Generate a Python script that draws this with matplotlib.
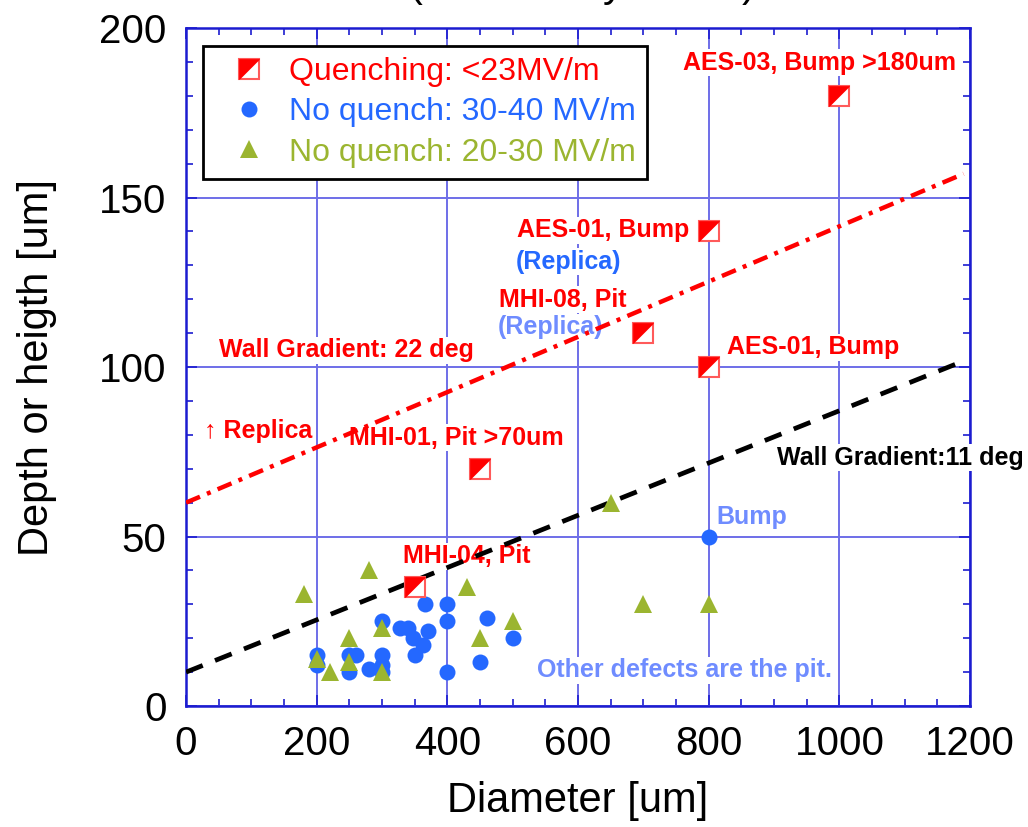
import numpy as np
import matplotlib
matplotlib.use('Agg')
import matplotlib.pyplot as plt
from matplotlib.path import Path
from matplotlib.lines import Line2D

plt.rcParams['font.family'] = ['Liberation Sans', 'DejaVu Sans']

# ---------------------------------------------------------------------------
# data
# ---------------------------------------------------------------------------
quench_x = [350, 450, 700, 800, 800, 1000]
quench_y = [35, 70, 110, 100, 140, 180]

high_x = [200, 200, 250, 250, 260, 280, 300, 300, 300, 300, 328, 340, 348,
          350, 362, 365, 370, 400, 400, 400, 450, 460, 500, 800]
high_y = [15, 12, 15, 10, 15, 11, 25, 15, 12, 10, 23, 23, 20,
          15, 18, 30, 22, 30, 25, 10, 13, 26, 20, 50]

mid_x = [180, 200, 220, 250, 250, 280, 300, 300, 430, 450, 500, 650, 700, 800]
mid_y = [33, 14, 10, 20, 13, 40, 23, 10, 35, 20, 25, 60, 30, 30]

red_line_x = [0, 1190]
red_line_y = [60, 157]
black_line_x = [0, 1180]
black_line_y = [10, 101]

legend_labels = ['Quenching: <23MV/m', 'No quench: 30-40 MV/m',
                 'No quench: 20-30 MV/m']

RED = '#ff0000'
EDGE_RED = '#ff5a5a'
BLUE = '#2468ff'
LIGHT_BLUE = '#6f8cff'
GREEN = '#9bb530'
GRID = '#6e6ee8'
SPINE = '#1c1cd0'

# upper-left half of a square, for the half-filled marker
half_tri = Path([(-1, -1), (-1, 1), (1, 1), (-1, -1)],
                [Path.MOVETO, Path.LINETO, Path.LINETO, Path.CLOSEPOLY])


def main():
    fig = plt.figure(figsize=(10.28, 8.27), dpi=100)
    ax = fig.add_axes([0.181, 0.1463, 0.7627, 0.8198])

    # reference lines
    ax.plot(red_line_x, red_line_y, color=RED, lw=3.2,
            linestyle=(0, (3.4, 1.7, 0.9, 1.7)), zorder=2.8)
    ax.plot(black_line_x, black_line_y, color='black', lw=3.4,
            linestyle=(0, (3.8, 2.8)), zorder=2.8)

    # data points
    ax.plot(high_x, high_y, 'o', color=BLUE, ms=11.5, mew=0, zorder=3)
    ax.plot(mid_x, mid_y, '^', color=GREEN, ms=13.5, mew=0, zorder=3.1)
    sq, = ax.plot(quench_x, quench_y, 's', mfc='white', mec=EDGE_RED,
                  ms=15, mew=1.5, zorder=3.2)
    tri, = ax.plot(quench_x, quench_y, marker=half_tri, ls='none',
                   mfc=RED, mec=RED, ms=15, mew=0.5, zorder=3.3)

    # annotations
    box = dict(facecolor='white', edgecolor='none', pad=1)
    notes = [
        (969, 189.7, 'AES-03, Bump >180um', RED),
        (638, 140.4, 'AES-01, Bump', RED),
        (586, 131.0, '(Replica)', BLUE),
        (576, 119.9, 'MHI-08, Pit', RED),
        (557, 111.8, '(Replica)', LIGHT_BLUE),
        (246, 105.0, 'Wall Gradient: 22 deg', RED),
        (960, 105.9, 'AES-01, Bump', RED),
        (110, 81.0, '\u2191 Replica', RED),
        (414, 79.2, 'MHI-01, Pit >70um', RED),
        (1093, 73.2, 'Wall Gradient:11 deg', 'black'),
        (866, 55.8, 'Bump', LIGHT_BLUE),
        (430, 44.2, 'MHI-04, Pit', RED),
        (763, 10.6, 'Other defects are the pit.', LIGHT_BLUE),
    ]
    for x, y, s, c in notes:
        ax.text(x, y, s, color=c, fontsize=18, fontweight='bold',
                ha='center', va='center', bbox=box, zorder=2.7)

    # axes
    ax.set_xlim(0, 1200)
    ax.set_ylim(0, 200)
    ax.set_xticks(np.arange(0, 1201, 200))
    ax.set_yticks(np.arange(0, 201, 50))
    ax.set_xticks(np.arange(0, 1201, 50), minor=True)
    ax.set_yticks(np.arange(0, 201, 10), minor=True)
    ax.tick_params(which='both', direction='in', top=True, right=True,
                   color=SPINE, width=1.2)
    ax.tick_params(which='major', length=8, labelsize=29)
    ax.tick_params(which='minor', length=5)
    ax.tick_params(axis='x', which='major', pad=14)
    ax.tick_params(axis='y', which='major', pad=14)
    ax.set_axisbelow(True)
    ax.grid(True, which='major', color=GRID, lw=1.4)
    for sp in ax.spines.values():
        sp.set_color(SPINE)
        sp.set_linewidth(1.8)

    ax.set_xlabel('Diameter [um]', fontsize=30)
    ax.set_ylabel('Depth or heigth [um]', fontsize=30)
    ax.xaxis.set_label_coords(0.5, -0.110)
    ax.yaxis.set_label_coords(-0.165, 0.5)

    circ = Line2D([], [], marker='o', ls='none', color=BLUE, ms=11.5, mew=0)
    trih = Line2D([], [], marker='^', ls='none', color=GREEN, ms=13.5, mew=0)
    leg = ax.legend([(sq, tri), circ, trih], legend_labels, loc='upper left',
                    bbox_to_anchor=(0.0217, 0.9735), borderaxespad=0,
                    fontsize=23, fancybox=False, framealpha=1,
                    edgecolor='black', borderpad=0.35, labelspacing=0.32,
                    handlelength=2.2, handletextpad=0.15)
    leg.get_frame().set_linewidth(2)
    for txt, c in zip(leg.get_texts(), [RED, BLUE, GREEN]):
        txt.set_color(c)

    # title, cut off at the top edge of the picture
    for px, ch in [(408, '('), (603, 'y'), (742, ')')]:
        fig.text(px / 1028, 1.0 + 4.0 / 827, ch, fontsize=30,
                 ha='left', va='baseline')

    fig.savefig('out.png', dpi=100)
    plt.close(fig)


if __name__ == '__main__':
    main()
